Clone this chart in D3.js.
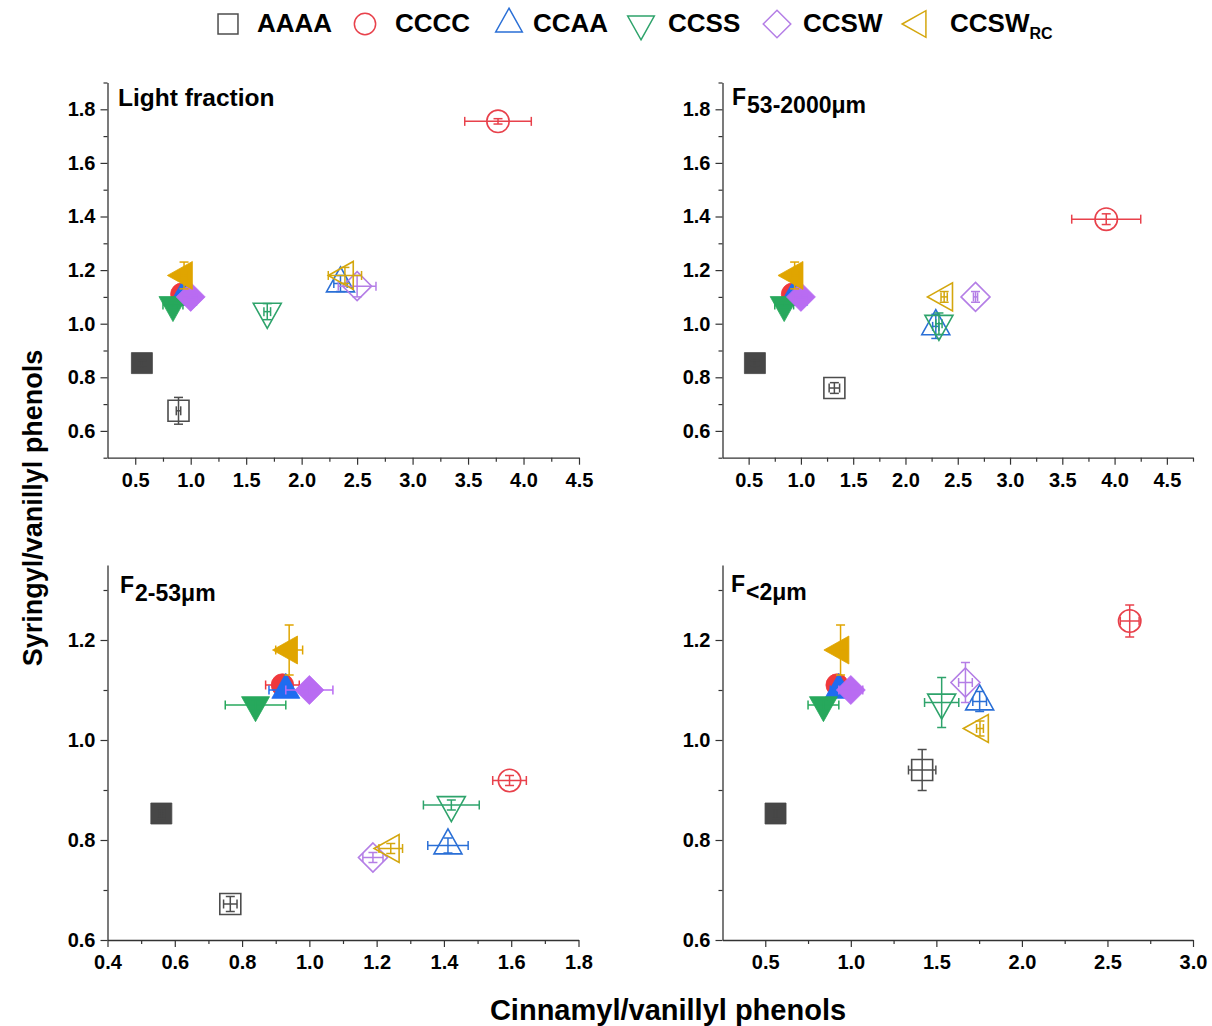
<!DOCTYPE html>
<html><head><meta charset="utf-8">
<script src="https://cdn.jsdelivr.net/npm/d3@7"></script>
<style>
body{margin:0;background:#fff}
svg{display:block}
text{font-family:"Liberation Sans",Arial,Helvetica,sans-serif;font-weight:bold;fill:#000}
</style>
</head><body>
<svg id="chart" width="1212" height="1026"></svg>
<script>
// ---------- data ----------
const seriesNames = ["AAAA", "CCCC", "CCAA", "CCSS", "CCSW", "CCSW"];
const seriesSubs = ["", "", "", "", "", "RC"];
const seriesShapes = ["square", "circle", "triangleUp", "triangleDown", "diamond", "triangleLeft"];
const openColors = ["#4d4d4d", "#e8414b", "#2a6fd6", "#2ea36b", "#b47ee6", "#d4a70e"];
const filledColors = ["#474747", "#f0383c", "#1f6cf0", "#27a85c", "#b96cf2", "#e0a500"];

// filled (reference) points, identical in all four panels
const refX = [0.56, 0.92, 0.93, 0.84, 1.00, 0.94];
const refY = [0.853, 1.11, 1.10, 1.07, 1.10, 1.18];
const refXErr = [0.01, 0.05, 0.05, 0.09, 0.07, 0.04];
const refYErr = [0.01, 0.01, 0.01, 0.01, 0.01, 0.05];

// Light fraction
const lightX = [0.89, 3.77, 2.35, 1.69, 2.50, 2.39];
const lightY = [0.675, 1.755, 1.15, 1.045, 1.14, 1.18];
const lightXErr = [0.02, 0.30, 0.06, 0.03, 0.17, 0.15];
const lightYErr = [0.05, 0.01, 0.03, 0.03, 0.04, 0.03];

// F 53-2000 µm
const f53X = [1.32, 3.92, 2.29, 2.32, 2.67, 2.37];
const f53Y = [0.76, 1.39, 0.99, 1.00, 1.10, 1.10];
const f53XErr = [0.05, 0.33, 0.03, 0.03, 0.02, 0.03];
const f53YErr = [0.02, 0.02, 0.045, 0.04, 0.02, 0.02];

// F 2-53 µm
const f2X = [0.765, 1.595, 1.412, 1.422, 1.189, 1.242];
const f2Y = [0.672, 0.919, 0.789, 0.870, 0.765, 0.783];
const f2XErr = [0.02, 0.05, 0.06, 0.083, 0.03, 0.035];
const f2YErr = [0.015, 0.01, 0.015, 0.01, 0.01, 0.01];

// F <2 µm
const fcX = [1.417, 2.63, 1.753, 1.531, 1.67, 1.755];
const fcY = [0.94, 1.238, 1.077, 1.075, 1.115, 1.023];
const fcXErr = [0.08, 0.055, 0.04, 0.10, 0.04, 0.02];
const fcYErr = [0.041, 0.032, 0.02, 0.05, 0.04, 0.015];

// tick labels
const xTicksTop = [0.5, 1.0, 1.5, 2.0, 2.5, 3.0, 3.5, 4.0, 4.5];
const xMinorTop1 = [0.75, 1.25, 1.75, 2.25, 2.75, 3.25, 3.75, 4.25];
const xMinorTop2 = [0.75, 1.25, 1.75, 2.25, 2.75, 3.25, 3.75, 4.25, 4.75];
const yTicksTop = [0.6, 0.8, 1.0, 1.2, 1.4, 1.6, 1.8];
const yMinorTop = [0.5, 0.7, 0.9, 1.1, 1.3, 1.5, 1.7, 1.9];
const xTicksF2 = [0.4, 0.6, 0.8, 1.0, 1.2, 1.4, 1.6, 1.8];
const xMinorF2 = [0.5, 0.7, 0.9, 1.1, 1.3, 1.5, 1.7];
const xTicksFc = [0.5, 1.0, 1.5, 2.0, 2.5, 3.0];
const xMinorFc = [0.75, 1.25, 1.75, 2.25, 2.75];
const yTicksBot = [0.6, 0.8, 1.0, 1.2];
const yMinorBot = [0.7, 0.9, 1.1, 1.3];

// ---------- drawing ----------
const svg = d3.select("#chart");

const panels = [
  {title: ["Light fraction", ""], tx: 118, ty: 106, left: 107.5, right: 579, top: 82.5, bottom: 457.7,
   xd: [0.25, 4.5], yd: [0.5, 1.9], xt: xTicksTop, xm: xMinorTop1, yt: yTicksTop, ym: yMinorTop,
   X: lightX, Y: lightY, XE: lightXErr, YE: lightYErr},
  {title: ["F", "53-2000μm"], tx: 732, ty: 105, left: 722.5, right: 1193, top: 82.5, bottom: 457.7,
   xd: [0.25, 4.75], yd: [0.5, 1.9], xt: xTicksTop, xm: xMinorTop2, yt: yTicksTop, ym: yMinorTop,
   X: f53X, Y: f53Y, XE: f53XErr, YE: f53YErr},
  {title: ["F", "2-53μm"], tx: 120, ty: 593, left: 107.5, right: 578.5, top: 565, bottom: 940,
   xd: [0.4, 1.8], yd: [0.6, 1.35], xt: xTicksF2, xm: xMinorF2, yt: yTicksBot, ym: yMinorBot,
   X: f2X, Y: f2Y, XE: f2XErr, YE: f2YErr},
  {title: ["F", "<2μm"], tx: 731, ty: 592, left: 722.5, right: 1193, top: 565, bottom: 940,
   xd: [0.25, 3.0], yd: [0.6, 1.35], xt: xTicksFc, xm: xMinorFc, yt: yTicksBot, ym: yMinorBot,
   X: fcX, Y: fcY, XE: fcXErr, YE: fcYErr}
];

function shapePath(shape, k) {
  k = k || 1;
  const p = d3.path();
  if (shape === "square") { const h = 10.5 * k; p.rect(-h, -h, 2 * h, 2 * h); }
  else if (shape === "circle") { const r = 11.2 * k; p.moveTo(r, 0); p.arc(0, 0, r, 0, 2 * Math.PI); }
  else if (shape === "triangleUp") { const w = 14 * k, h = 25 * k;
    p.moveTo(0, -2 * h / 3); p.lineTo(w, h / 3); p.lineTo(-w, h / 3); p.closePath(); }
  else if (shape === "triangleDown") { const w = 14 * k, h = 25 * k;
    p.moveTo(0, 2 * h / 3); p.lineTo(w, -h / 3); p.lineTo(-w, -h / 3); p.closePath(); }
  else if (shape === "diamond") { const h = 14.5 * k;
    p.moveTo(0, -h); p.lineTo(h, 0); p.lineTo(0, h); p.lineTo(-h, 0); p.closePath(); }
  else if (shape === "triangleLeft") { const w = 25 * k, h = 14 * k;
    p.moveTo(-2 * w / 3, 0); p.lineTo(w / 3, -h); p.lineTo(w / 3, h); p.closePath(); }
  return p.toString();
}

function drawPoints(g, x, y, X, Y, XE, YE, filled) {
  const cap = 4.5;
  seriesNames.forEach((n, i) => {
    const col = filled ? filledColors[i] : openColors[i];
    const cx = x(X[i]), cy = y(Y[i]);
    const grp = g.append("g");
    grp.append("path").attr("d", shapePath(seriesShapes[i]))
      .attr("transform", `translate(${cx},${cy})`)
      .attr("fill", filled ? col : "none").attr("stroke", col).attr("stroke-width", filled ? 0.8 : 1.6);
    const eb = grp.append("g").attr("stroke", col).attr("stroke-width", 1.5).attr("fill", "none");
    const x0 = x(X[i] - XE[i]), x1 = x(X[i] + XE[i]);
    const y0 = y(Y[i] - YE[i]), y1 = y(Y[i] + YE[i]);
    eb.append("line").attr("x1", x0).attr("x2", x1).attr("y1", cy).attr("y2", cy);
    eb.append("line").attr("x1", x0).attr("x2", x0).attr("y1", cy - cap).attr("y2", cy + cap);
    eb.append("line").attr("x1", x1).attr("x2", x1).attr("y1", cy - cap).attr("y2", cy + cap);
    eb.append("line").attr("x1", cx).attr("x2", cx).attr("y1", y0).attr("y2", y1);
    eb.append("line").attr("y1", y0).attr("y2", y0).attr("x1", cx - cap).attr("x2", cx + cap);
    eb.append("line").attr("y1", y1).attr("y2", y1).attr("x1", cx - cap).attr("x2", cx + cap);
  });
}

panels.forEach(P => {
  const x = d3.scaleLinear().domain(P.xd).range([P.left, P.right]);
  const y = d3.scaleLinear().domain(P.yd).range([P.bottom, P.top]);
  const g = svg.append("g");

  const fmt = d3.format(".1f");
  g.append("g").attr("transform", `translate(0,${P.bottom})`)
    .call(d3.axisBottom(x).tickValues(P.xt).tickFormat(fmt).tickSizeInner(7).tickSizeOuter(0).tickPadding(8));
  g.append("g").attr("transform", `translate(0,${P.bottom})`)
    .call(d3.axisBottom(x).tickValues(P.xm).tickFormat("").tickSizeInner(4).tickSizeOuter(0))
    .select(".domain").remove();
  g.append("g").attr("transform", `translate(${P.left},0)`)
    .call(d3.axisLeft(y).tickValues(P.yt).tickFormat(fmt).tickSizeInner(7).tickSizeOuter(0).tickPadding(5));
  g.append("g").attr("transform", `translate(${P.left},0)`)
    .call(d3.axisLeft(y).tickValues(P.ym).tickFormat("").tickSizeInner(4).tickSizeOuter(0))
    .select(".domain").remove();
  g.selectAll(".domain").attr("stroke", "#333").attr("stroke-width", 1.3);
  g.selectAll(".tick line").attr("stroke", "#333").attr("stroke-width", 1.2);
  g.selectAll(".tick text").attr("font-size", 20).attr("font-weight", "bold")
    .attr("font-family", '"Liberation Sans", Arial, sans-serif').attr("fill", "#000");

  // title
  const t = g.append("text").attr("x", P.tx).attr("y", P.ty).attr("font-size", P.title[1] ? 23 : 24.5);
  t.append("tspan").text(P.title[0]);
  if (P.title[1]) t.append("tspan").attr("dy", 8).attr("dx", 1).text(P.title[1]);

  drawPoints(g, x, y, P.X, P.Y, P.XE, P.YE, false);
  drawPoints(g, x, y, refX, refY, refXErr, refYErr, true);
});

// axis titles
svg.append("text").attr("x", 668).attr("y", 1020).attr("text-anchor", "middle")
  .attr("font-size", 29).text("Cinnamyl/vanillyl phenols");
svg.append("text").attr("transform", "translate(42,508) rotate(-90)").attr("text-anchor", "middle")
  .attr("font-size", 27).text("Syringyl/vanillyl phenols");

// legend
const legSymX = [228, 365, 509, 641, 777, 918];
const legTextX = [257, 395, 533, 668, 803, 950];
const leg = svg.append("g");
seriesNames.forEach((n, i) => {
  leg.append("path").attr("d", shapePath(seriesShapes[i], 0.95))
    .attr("transform", `translate(${legSymX[i]},24)`)
    .attr("fill", "none").attr("stroke", openColors[i]).attr("stroke-width", 1.5);
  const tt = leg.append("text").attr("x", legTextX[i]).attr("y", 32).attr("font-size", 26).text(n);
  if (seriesSubs[i]) tt.append("tspan").attr("dy", 7).attr("font-size", 16).text(seriesSubs[i]);
});
</script>
</body></html>
